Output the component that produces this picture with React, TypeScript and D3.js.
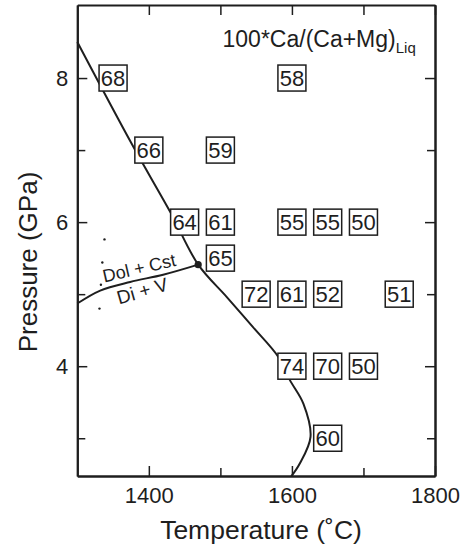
import React, { useRef, useEffect } from 'react';
import * as d3 from 'd3';

// Experimental runs: temperature (°C), pressure (GPa), 100*Ca/(Ca+Mg) of liquid
const BOX_TEMP = [1350, 1600, 1400, 1500, 1450, 1500, 1600, 1650, 1700, 1500, 1550, 1600, 1650, 1750, 1600, 1650, 1700, 1650];
const BOX_PRESS = [8, 8, 7, 7, 6, 6, 6, 6, 6, 5.5, 5, 5, 5, 5, 4, 4, 4, 3];
const BOX_VALUE = [68, 58, 66, 59, 64, 61, 55, 55, 50, 65, 72, 61, 52, 51, 74, 70, 50, 60];

// Solidus / liquidus boundary
const LIQ_TEMP = [1300, 1377, 1430, 1469, 1509, 1545, 1581, 1597, 1616, 1626, 1611, 1599];
const LIQ_PRESS = [8.5, 7.07, 6.14, 5.41, 4.96, 4.55, 4.13, 3.81, 3.48, 3.02, 2.65, 2.47];

// Dol + Cst = Di + V reaction
const RXN_TEMP = [1300, 1332, 1374, 1420, 1469];
const RXN_PRESS = [4.87, 5.05, 5.17, 5.27, 5.41];

// small run markers
const DOT_TEMP = [1338, 1335, 1333, 1331];
const DOT_PRESS = [5.76, 5.44, 5.13, 4.8];

const TRIPLE = { t: 1469, p: 5.41 };

const X_MAJOR = [1400, 1600, 1800];
const X_MINOR = [1500, 1700];
const Y_MAJOR = [4, 6, 8];
const Y_MINOR = [3, 5, 7];

const W = 465;
const H = 551;
const FONT = 'Liberation Sans, Arial, Helvetica, sans-serif';
const INK = '#1e1e1e';

const App: React.FC = () => {
  const ref = useRef<SVGSVGElement>(null);

  useEffect(() => {
    if (!ref.current) return;
    const svg = d3.select(ref.current);
    svg.selectAll('*').remove();

    const left = 77.3;
    const right = 435;
    const top = 5;
    const bottom = 476;

    const x = d3.scaleLinear().domain([1300, 1800]).range([left, right]);
    const y = d3.scaleLinear().domain([2.476, 9.014]).range([bottom, top]);

    const styleAxis = (g: d3.Selection<SVGGElement, unknown, null, undefined>) => {
      g.attr('font-family', FONT).attr('font-size', 22);
      g.selectAll('.domain').attr('stroke', INK).attr('stroke-width', 2);
      g.selectAll('.tick line').attr('stroke', INK).attr('stroke-width', 1.5);
      g.selectAll('.tick text').attr('fill', INK);
    };

    // bottom
    svg.append('g').attr('transform', `translate(0,${bottom})`)
      .call(d3.axisBottom(x).tickValues(X_MAJOR).tickSizeInner(-10).tickSizeOuter(0).tickPadding(11).tickFormat(d3.format('d')))
      .call(styleAxis);
    svg.append('g').attr('transform', `translate(0,${bottom})`)
      .call(d3.axisBottom(x).tickValues(X_MINOR).tickSizeInner(-8).tickSizeOuter(0).tickFormat(() => ''))
      .call(styleAxis);
    // top
    svg.append('g').attr('transform', `translate(0,${top})`)
      .call(d3.axisTop(x).tickValues([...X_MAJOR, ...X_MINOR]).tickSizeInner(-10).tickSizeOuter(0).tickFormat(() => ''))
      .call(styleAxis);
    // left
    svg.append('g').attr('transform', `translate(${left},0)`)
      .call(d3.axisLeft(y).tickValues(Y_MAJOR).tickSizeInner(-10).tickSizeOuter(0).tickPadding(9).tickFormat(d3.format('d')))
      .call(styleAxis);
    svg.append('g').attr('transform', `translate(${left},0)`)
      .call(d3.axisLeft(y).tickValues(Y_MINOR).tickSizeInner(-8).tickSizeOuter(0).tickFormat(() => ''))
      .call(styleAxis);
    // right
    svg.append('g').attr('transform', `translate(${right},0)`)
      .call(d3.axisRight(y).tickValues(Y_MAJOR).tickSizeInner(-10).tickSizeOuter(0).tickFormat(() => ''))
      .call(styleAxis);
    svg.append('g').attr('transform', `translate(${right},0)`)
      .call(d3.axisRight(y).tickValues(Y_MINOR).tickSizeInner(-8).tickSizeOuter(0).tickFormat(() => ''))
      .call(styleAxis);

    // axis titles
    svg.append('text')
      .attr('x', 261).attr('y', 539)
      .attr('text-anchor', 'middle')
      .attr('font-family', FONT).attr('font-size', 26.5).attr('fill', INK)
      .text('Temperature (˚C)');
    svg.append('text')
      .attr('transform', `translate(37,262) rotate(-90)`)
      .attr('text-anchor', 'middle')
      .attr('font-family', FONT).attr('font-size', 26).attr('fill', INK)
      .text('Pressure (GPa)');

    const line = d3.line<[number, number]>()
      .x((d) => x(d[0]))
      .y((d) => y(d[1]))
      .curve(d3.curveCatmullRom.alpha(0.5));

    // boundary curves
    svg.append('path')
      .attr('d', line(LIQ_TEMP.map((t, i) => [t, LIQ_PRESS[i]])))
      .attr('fill', 'none').attr('stroke', INK).attr('stroke-width', 2);
    svg.append('path')
      .attr('d', line(RXN_TEMP.map((t, i) => [t, RXN_PRESS[i]])))
      .attr('fill', 'none').attr('stroke', INK).attr('stroke-width', 2);

    svg.append('circle')
      .attr('cx', x(TRIPLE.t)).attr('cy', y(TRIPLE.p)).attr('r', 3.6).attr('fill', INK);

    svg.selectAll('.dot')
      .data(DOT_TEMP)
      .enter()
      .append('circle')
      .attr('class', 'dot')
      .attr('cx', (t) => x(t)).attr('cy', (_, i) => y(DOT_PRESS[i]))
      .attr('r', 1.2).attr('fill', INK);

    // reaction labels
    svg.append('text')
      .attr('transform', `translate(${x(1337.7)},${y(5.163)}) rotate(-13)`)
      .attr('font-family', FONT).attr('font-size', 18).attr('fill', INK)
      .text('Dol + Cst');
    svg.append('text')
      .attr('transform', `translate(${x(1358.3)},${y(4.857)}) rotate(-16)`)
      .attr('font-family', FONT).attr('font-size', 19).attr('fill', INK)
      .text('Di + V');

    // composition label
    const ann = svg.append('text')
      .attr('x', x(1503)).attr('y', y(8.435))
      .attr('font-family', FONT).attr('font-size', 23).attr('fill', INK);
    ann.append('tspan').text('100*Ca/(Ca+Mg)');
    ann.append('tspan').attr('font-size', 15).attr('dy', 6).text('Liq');

    // boxed values
    const bw = 28;
    const bh = 26;
    const boxes = svg.selectAll('.box')
      .data(BOX_VALUE)
      .enter()
      .append('g')
      .attr('class', 'box')
      .attr('transform', (_, i) => `translate(${x(BOX_TEMP[i])},${y(BOX_PRESS[i])})`);
    boxes.append('rect')
      .attr('x', -bw / 2).attr('y', -bh / 2)
      .attr('width', bw).attr('height', bh)
      .attr('fill', '#fff').attr('stroke', INK).attr('stroke-width', 1.5);
    boxes.append('text')
      .attr('text-anchor', 'middle')
      .attr('y', 8)
      .attr('font-family', FONT).attr('font-size', 22).attr('fill', INK)
      .text((d) => String(d));
  }, []);

  return (
    <div style={{ position: 'absolute', left: 0, top: 0, width: W, height: H, background: '#fff' }}>
      <svg ref={ref} width={W} height={H} />
    </div>
  );
};

export default App;
